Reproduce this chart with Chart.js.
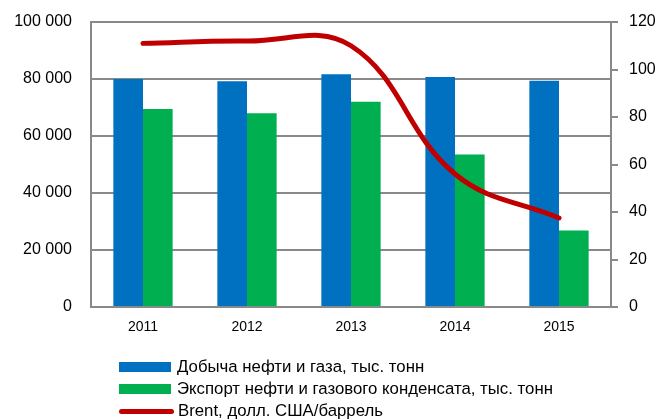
<!DOCTYPE html>
<html>
<head>
<meta charset="utf-8">
<script src="https://cdn.jsdelivr.net/npm/chart.js@4/dist/chart.umd.min.js"></script>
<style>
  body { margin: 0; background: #fff; }
  #wrap { position: relative; width: 662px; height: 419px; }
  #legend { position: absolute; left: 119px; top: 356px; font: 16.8px "Liberation Sans", sans-serif; color: #000; }
  .item { height: 22px; display: flex; align-items: center; }
  .sw { width: 52px; height: 10px; margin-right: 6px; }
  .ln { width: 55px; height: 5px; border-radius: 3px; margin-right: 4px; }
</style>
</head>
<body>
<div id="wrap">
  <canvas id="chart" width="662" height="419"></canvas>
  <div id="legend"></div>
</div>
<script>
var years = ["2011", "2012", "2013", "2014", "2015"];
var production = [80000, 79200, 81700, 80700, 79400];
var exports = [69500, 68000, 72000, 53500, 26800];
var brent = [111, 112, 110, 56, 37.5];

var seriesNames = [
  "Добыча нефти и газа, тыс. тонн",
  "Экспорт нефти и газового конденсата, тыс. тонн",
  "Brent, долл. США/баррель"
];
var colors = ["#0070C0", "#00B050", "#C00000"];
var gridColor = "#898989";

Chart.defaults.font.family = "'Liberation Sans', sans-serif";
Chart.defaults.color = "#000";

var myChart = new Chart(document.getElementById("chart"), {
  type: 'bar',
  data: {
    labels: years,
    datasets: [
      {
        type: 'line',
        label: seriesNames[2],
        data: brent,
        yAxisID: 'y2',
        borderColor: colors[2],
        borderWidth: 5,
        borderCapStyle: 'round',
        pointRadius: 0,
        tension: 0.4,
        fill: false,
        order: 0
      }, {
        label: seriesNames[0],
        data: production,
        backgroundColor: colors[0],
        yAxisID: 'y',
        order: 1
      }, {
        label: seriesNames[1],
        data: exports,
        backgroundColor: colors[1],
        yAxisID: 'y',
        order: 1
      }
    ]
  },
  options: {
    responsive: false,
    animation: false,
    layout: { autoPadding: false, padding: { left: 0, right: 0, top: 22, bottom: 82 } },
    datasets: { bar: { barPercentage: 1, categoryPercentage: 0.57 } },
    plugins: { legend: { display: false }, tooltip: { enabled: false } },
    scales: {
      x: {
        grid: { display: false, drawTicks: false },
        border: { display: true, color: gridColor, width: 2 },
        ticks: { padding: 12, font: { size: 14 } },
        afterFit: function (s) { s.height = 30; }
      },
      y: {
        position: 'left',
        min: 0, max: 100000,
        // invisible tick marks keep the labels away from the axis
        grid: { color: gridColor, lineWidth: 2, drawTicks: true, tickLength: 19, tickColor: 'rgba(0,0,0,0)' },
        border: { display: true, color: gridColor, width: 2 },
        ticks: {
          stepSize: 20000, padding: 0, font: { size: 16 },
          callback: function (v) { return v.toLocaleString('ru-RU').replace(/\s/g, ' '); }
        },
        afterFit: function (s) { s.width = 91; }
      },
      y2: {
        position: 'right',
        min: 0, max: 120,
        grid: { drawOnChartArea: false, color: gridColor, lineWidth: 2, tickLength: 7 },
        border: { display: true, color: gridColor, width: 2 },
        ticks: { stepSize: 20, padding: 11, font: { size: 16 } },
        afterFit: function (s) { s.width = 51; }
      }
    }
  }
});

// legend below the chart, stacked like the original
var legend = document.getElementById("legend");
[0, 1, 2].forEach(function (i) {
  var row = document.createElement("div");
  row.className = "item";
  var mark = document.createElement("span");
  mark.className = i === 2 ? "ln" : "sw";
  mark.style.background = colors[i];
  var txt = document.createElement("span");
  txt.textContent = seriesNames[i];
  row.appendChild(mark);
  row.appendChild(txt);
  legend.appendChild(row);
});
</script>
</body>
</html>
